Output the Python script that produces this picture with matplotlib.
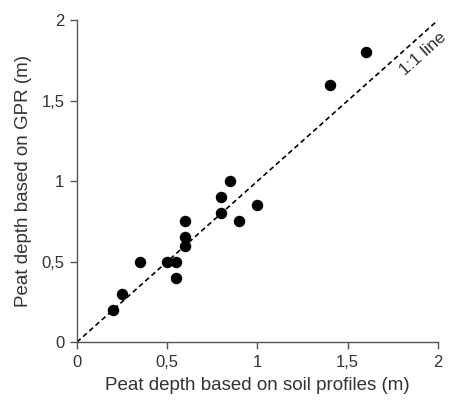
import matplotlib
matplotlib.use("Agg")
import matplotlib.pyplot as plt
import numpy as np

soil = [0.2, 0.25, 0.35, 0.5, 0.55, 0.55, 0.6, 0.6, 0.6, 0.8, 0.8, 0.85, 0.9, 1.0, 1.4, 1.6]
gpr = [0.2, 0.3, 0.5, 0.5, 0.5, 0.4, 0.6, 0.65, 0.75, 0.8, 0.9, 1.0, 0.75, 0.85, 1.6, 1.8]
ticks = [0, 0.5, 1, 1.5, 2]
tick_labels = ["0", "0,5", "1", "1,5", "2"]

plt.rcParams['font.family'] = ['Liberation Sans', 'DejaVu Sans']
fig = plt.figure(figsize=(4.52, 4.03), dpi=100)
ax = fig.add_axes([0.170, 0.151, 0.799, 0.799])
txtc = '#333333'
ax.plot([0, 2], [0, 2], ls=(0, (3, 2)), color='black', lw=1.2, zorder=1)
ax.scatter(soil, gpr, s=68, color='black', zorder=2, linewidths=0)
ax.set_xlim(0, 2)
ax.set_ylim(0, 2)
ax.set_xticks(ticks)
ax.set_xticklabels(tick_labels)
ax.set_yticks(ticks)
ax.set_yticklabels(tick_labels)
for s in ['top', 'right']:
    ax.spines[s].set_visible(False)
for s in ['left', 'bottom']:
    ax.spines[s].set_color('#555555')
    ax.spines[s].set_linewidth(1.0)
ax.tick_params(direction='out', length=5, width=1.0, color='#555555', labelsize=12, labelcolor=txtc, pad=4)
ax.set_xlabel('Peat depth based on soil profiles (m)', fontsize=13.5, color=txtc, labelpad=5)
ax.set_ylabel('Peat depth based on GPR (m)', fontsize=13.5, color=txtc, labelpad=7)
bb = ax.get_position()
W = bb.width * 452
H = bb.height * 403
ang = np.degrees(np.arctan2(H, W))
ax.text(1.915, 1.79, '1:1 line', rotation=ang, rotation_mode='anchor', ha='center', va='center',
        fontsize=12.5, color=txtc, clip_on=False)
fig.savefig('out.png', dpi=100)
